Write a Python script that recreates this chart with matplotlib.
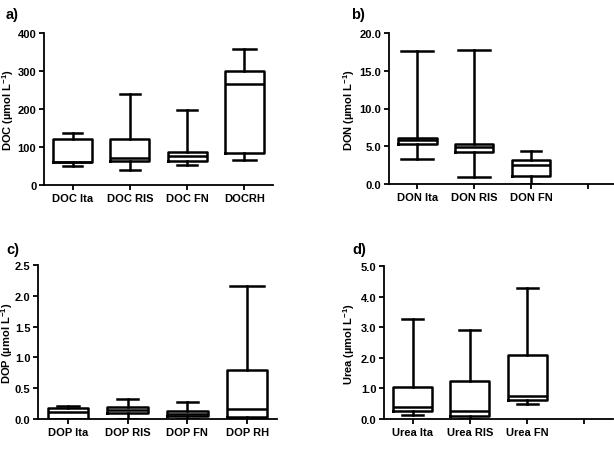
import matplotlib
matplotlib.use("Agg")
import matplotlib.pyplot as plt
import numpy as np

plt.rcParams['font.family'] = ['Liberation Sans', 'DejaVu Sans']
plt.rcParams['font.weight'] = 'bold'
plt.rcParams['mathtext.fontset'] = 'custom'
plt.rcParams['mathtext.bf'] = 'Liberation Sans:bold'
plt.rcParams['mathtext.rm'] = 'Liberation Sans:bold'
plt.rcParams['mathtext.default'] = 'bf'

# ---- data ----
doc_labels = ["DOC Ita", "DOC RIS", "DOC FN", "DOCRH"]
doc_whislo = [50, 39, 53, 66]
doc_q1 = [60, 62, 63, 83]
doc_med = [61, 70, 77, 266]
doc_q3 = [122, 120, 87, 301]
doc_whishi = [136, 240, 198, 357]

don_labels = ["DON Ita", "DON RIS", "DON FN", ""]
don_whislo = [3.3, 0.9, 0.0]
don_q1 = [5.36, 4.23, 1.0]
don_med = [5.77, 4.86, 2.5]
don_q3 = [6.1, 5.36, 3.18]
don_whishi = [17.6, 17.8, 4.36]

dop_labels = ["DOP Ita", "DOP RIS", "DOP FN", "DOP RH"]
dop_whislo = [0.0, 0.0, 0.0, 0.0]
dop_q1 = [0.0, 0.09, 0.045, 0.03]
dop_med = [0.12, 0.14, 0.08, 0.165]
dop_q3 = [0.176, 0.20, 0.127, 0.80]
dop_whishi = [0.21, 0.32, 0.27, 2.16]

urea_labels = ["Urea Ita", "Urea RIS", "Urea FN", ""]
urea_whislo = [0.12, 0.0, 0.49]
urea_q1 = [0.25, 0.11, 0.63]
urea_med = [0.38, 0.25, 0.74]
urea_q3 = [1.05, 1.25, 2.10]
urea_whishi = [3.27, 2.92, 4.27]

W, H = 614, 456
fig = plt.figure(figsize=(W / 100, H / 100), dpi=100)


def make_ax(left, right, top, bottom):
    return fig.add_axes([left / W, 1 - bottom / H, (right - left) / W, (bottom - top) / H])


def panel(ax, labels, lo, q1, med, q3, hi, capw, ylim, yticks, fmt, ylabel, letter,
          label_off_px, letter_px):
    stats = []
    for i in range(len(lo)):
        stats.append(dict(whislo=lo[i], q1=q1[i], med=med[i], q3=q3[i], whishi=hi[i], fliers=[]))
    lw = 1.8
    ax.bxp(stats, positions=np.arange(1, len(stats) + 1), widths=0.68,
           capwidths=capw, showfliers=False,
           boxprops=dict(color='black', linewidth=lw),
           medianprops=dict(color='black', linewidth=lw),
           whiskerprops=dict(color='black', linewidth=lw),
           capprops=dict(color='black', linewidth=lw))
    ax.set_xlim(0.5, len(labels) + 0.5)
    ax.set_xticks(np.arange(1, len(labels) + 1))
    ax.set_xticklabels(labels, fontsize=8, fontweight='bold')
    ax.set_ylim(*ylim)
    ax.set_yticks(yticks)
    ax.set_yticklabels([fmt.format(v) for v in yticks], fontsize=8, fontweight='bold')
    ax.set_ylabel(ylabel, fontsize=8, fontweight='bold')
    bbox = ax.get_position()
    wpx = bbox.width * W
    ax.yaxis.set_label_coords(label_off_px / wpx, 0.5)
    for s in ['top', 'right']:
        ax.spines[s].set_visible(False)
    for s in ['left', 'bottom']:
        ax.spines[s].set_linewidth(1.3)
    ax.tick_params(axis='both', width=1.3, length=3.5, pad=2)
    fig.text(letter_px[0] / W, 1 - letter_px[1] / H, letter, fontsize=10.5,
             fontweight='bold', ha='left', va='center')


ax_a = make_ax(44, 273, 34, 186)
panel(ax_a, doc_labels, doc_whislo, doc_q1, doc_med, doc_q3, doc_whishi,
      [0.33, 0.36, 0.36, 0.4], (0, 400), [0, 100, 200, 300, 400], "{:.0f}",
      "DOC (µmol L$^{-1}$)", "a)", -28, (6, 15))

ax_b = make_ax(389, 616, 34, 185)
panel(ax_b, don_labels, don_whislo, don_q1, don_med, don_q3, don_whishi,
      [0.56, 0.56, 0.36], (0, 20), [0, 5, 10, 15, 20], "{:.1f}",
      "DON (µmol L$^{-1}$)", "b)", -32, (351, 15))

ax_c = make_ax(38, 277, 266, 420)
panel(ax_c, dop_labels, dop_whislo, dop_q1, dop_med, dop_q3, dop_whishi,
      [0.36, 0.36, 0.36, 0.57], (0, 2.5), [0, 0.5, 1.0, 1.5, 2.0, 2.5], "{:.1f}",
      "DOP (µmol L$^{-1}$)", "c)", -23, (6, 250))

ax_d = make_ax(384, 613, 267, 420)
panel(ax_d, urea_labels, urea_whislo, urea_q1, urea_med, urea_q3, urea_whishi,
      [0.37, 0.37, 0.37], (0, 5), [0, 1, 2, 3, 4, 5], "{:.1f}",
      "Urea (µmol L$^{-1}$)", "d)", -27, (352, 250))

fig.savefig("out.png", dpi=100)
